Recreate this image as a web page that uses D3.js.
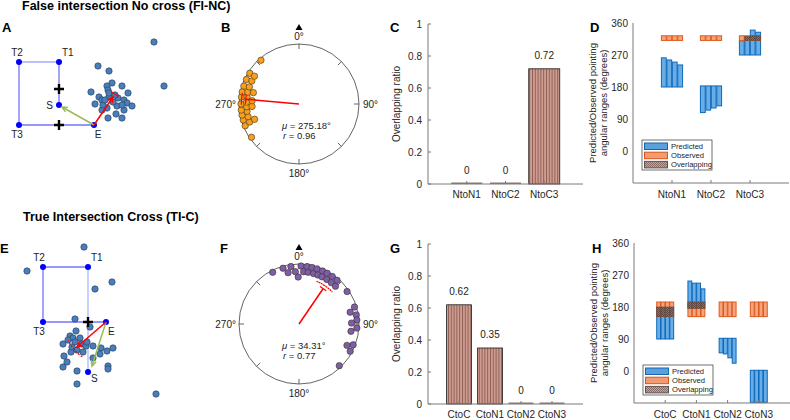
<!DOCTYPE html>
<html><head><meta charset="utf-8">
<script src="https://cdn.jsdelivr.net/npm/d3@7"></script>
<style>body{margin:0;background:#fff}svg{font-family:"Liberation Sans",Arial,Helvetica,sans-serif}</style>
</head><body>
<svg id="c" width="790" height="420"></svg>
<script>
// ---------------- DATA ----------------
const titles = ["False intersection No cross (FI-NC)", "True Intersection Cross (TI-C)"];
const letters = ["A","B","C","D","E","F","G","H"];

// Map A (map units; T3 at origin, y up)
const nodesA = [["T2",0,6.3],["T1",4.0,6.3],["T3",0,0],["E",7.5,0],["S",4.0,2.0]];
const edgesA = [["T2","T1"],["T1","S"],["T2","T3"],["T3","E"]];
const crossesA = [[4.0,3.6],[4.0,0]];
const pointsA = [[13.5,8.3],[14.5,3.9],[7.9,5.9],[9.0,5.4],[9.3,4.2],[8.8,3.9],[10.3,3.9],[7.2,3.3],[8.9,3.5],
  [10.9,3.2],[8.0,2.8],[8.3,2.5],[7.6,2.1],[9.0,2.8],[9.9,2.7],[10.5,2.5],[10.8,2.2],[11.3,1.9],[9.8,1.9],
  [10.5,1.5],[8.8,1.7],[8.3,1.5],[9.7,1.1],[8.9,0.7],[10.3,0.7],[8.4,2.0],[10.3,2.0],[9.4,2.3],[9.0,3.2],
  [8.6,2.5],[9.6,3.0]];
const redArrowA = [[7.5,0],[9.4,2.8]];
const greenArrowA = [[7.5,0],[4.3,1.8]];
const ciA = 7;

// Map E
const nodesE = [["T2",0,5.5],["T1",4.5,5.5],["T3",0,0],["E",6.3,0],["S",4.5,-5.0]];
const edgesE = [["T2","T1"],["T2","T3"],["T3","E"],["T1","S"]];
const crossesE = [[4.5,0]];
const pointsE = [[4.1,7.5],[-1.6,5.1],[6.9,4.0],[5.2,3.3],[3.2,0.3],[4.7,-0.5],[3.3,-0.9],[2.7,-1.4],[3.0,-1.6],
  [3.7,-1.6],[2.5,-1.8],[2.0,-2.2],[3.9,-2.2],[4.3,-2.4],[5.0,-2.4],[3.4,-2.8],[2.8,-3.0],[5.8,-2.6],[6.4,-2.9],
  [7.0,-2.6],[2.1,-3.4],[5.7,-3.2],[5.0,-3.6],[2.4,-4.0],[2.0,-4.5],[6.5,-4.4],[6.5,-4.7],[3.4,-4.9],[3.4,-6.2],
  [11.3,-7.2],[2.9,-2.5],[3.2,-2.0],[4.4,-2.0],[4.0,-3.0]];
const redArrowE = [[6.3,0],[3.4,-2.5]];
const greenArrowE = [[6.3,0],[4.9,-4.4]];
const ciE = 15;

// Circular panels (compass degrees)
const anglesB = [235,248,250,251,254,256,259,262,264,267,267,270,272,274,277,278,282,283,284,288,289,295,296,302,302,319];
const statsB = {mu:275.18, r:0.96, ci:6};
const anglesF = [333,344,348,352,356,359,2,5,8,10,13,16,18,21,24,26,29,32,35,38,41,44,
  56,73,77,81,86,89,94,98,111,114,118,136];
const statsF = {mu:34.31, r:0.77, ci:12};
const compassLabels = [[0,"0°"],[90,"90°"],[180,"180°"],[270,"270°"]];

// Overlapping ratio bars
const catsC = ["NtoN1","NtoC2","NtoC3"];
const valsC = [0, 0, 0.72];
const catsG = ["CtoC","CtoN1","CtoN2","CtoN3"];
const valsG = [0.62, 0.35, 0, 0];
const ratioTicks = [0,0.2,0.4,0.6,0.8,1];

// Predicted / observed angular ranges (degrees)
const predD = [
  [[180,262],[180,256],[180,250],[180,242]],
  [[108,183],[115,183],[121,183],[127,183]],
  [[270,310],[270,322],[270,340],[270,334]]];
const obsD = [311,324];
const predH = [
  [[90,180],[90,180],[90,180],[90,180]],
  [[176,253],[176,247],[176,247],[176,231]],
  [[51,92],[48,92],[37,92],[22,92]],
  [[-88,2],[-88,2],[-88,2],[-88,2]]];
const obsH = [153,194];
const angleTicks = [0,90,180,270,360];
const legendItems = ["Predicted","Observed","Overlapping"];

// ---------------- DRAW ----------------
const svg = d3.select("#c");
const defs = svg.append("defs");
const stripe = defs.append("pattern").attr("id","stripe").attr("patternUnits","userSpaceOnUse")
  .attr("width",2.8).attr("height",10);
stripe.append("rect").attr("width",2.8).attr("height",10).attr("fill","#cf9d92");
stripe.append("rect").attr("x",0).attr("width",1).attr("height",10).attr("fill","#8f5f55");
const dots = defs.append("pattern").attr("id","dots").attr("patternUnits","userSpaceOnUse")
  .attr("width",2).attr("height",2);
dots.append("rect").attr("width",2).attr("height",2).attr("fill","#8e716b");
dots.append("rect").attr("width",1).attr("height",1).attr("fill","#5c4641");
dots.append("rect").attr("x",1).attr("y",1).attr("width",1).attr("height",1).attr("fill","#5c4641");
const dotsL = defs.append("pattern").attr("id","dotsL").attr("patternUnits","userSpaceOnUse")
  .attr("width",2).attr("height",2);
dotsL.append("rect").attr("width",2).attr("height",2).attr("fill","#c7a49c");
dotsL.append("rect").attr("width",1).attr("height",1).attr("fill","#8a6a63");
dotsL.append("rect").attr("x",1).attr("y",1).attr("width",1).attr("height",1).attr("fill","#8a6a63");

// titles & letters
svg.append("text").attr("x",22).attr("y",10).attr("font-size",12.5).attr("font-weight","bold").text(titles[0]);
svg.append("text").attr("x",23).attr("y",221).attr("font-size",12.5).attr("font-weight","bold").text(titles[1]);
const letterPos = [[2,32],[221,32],[390,32],[590,32],[0,253],[220,253],[390,253],[592,253]];
letters.forEach((l,i)=>svg.append("text").attr("x",letterPos[i][0]).attr("y",letterPos[i][1])
  .attr("font-size",13).attr("font-weight","bold").text(l));

function arrowHead(g, x1,y1,x2,y2,color){
  const a = Math.atan2(y2-y1,x2-x1), L=6, s=0.45;
  g.append("path").attr("d",`M${x2-L*Math.cos(a-s)},${y2-L*Math.sin(a-s)} L${x2},${y2} L${x2-L*Math.cos(a+s)},${y2-L*Math.sin(a+s)}`)
    .attr("fill","none").attr("stroke",color).attr("stroke-width",1.5);
}

function mapPanel(nodes, edges, points, crosses, red, green, ci, xs, ys, labelOff, edgeColors){
  const g = svg.append("g");
  const N = {}; nodes.forEach(n=>N[n[0]]={x:xs(n[1]),y:ys(n[2])});
  edges.forEach((e,i)=>g.append("line").attr("x1",N[e[0]].x).attr("y1",N[e[0]].y).attr("x2",N[e[1]].x).attr("y2",N[e[1]].y)
    .attr("stroke",edgeColors[i]).attr("stroke-width",1.3));
  nodes.forEach(n=>{
    g.append("circle").attr("cx",N[n[0]].x).attr("cy",N[n[0]].y).attr("r",3).attr("fill","#0000ff");
    const o = labelOff[n[0]];
    g.append("text").attr("x",N[n[0]].x+o[0]).attr("y",N[n[0]].y+o[1]).attr("text-anchor",o[2])
      .attr("font-size",10).attr("fill","#222").text(n[0]);
  });
  points.forEach(p=>g.append("circle").attr("cx",xs(p[0])).attr("cy",ys(p[1])).attr("r",3.2)
    .attr("fill","#4a7ebb").attr("stroke","#223a58").attr("stroke-width",0.6));
  crosses.forEach(c=>{
    const x=xs(c[0]), y=ys(c[1]);
    g.append("path").attr("d",`M${x-5},${y} H${x+5} M${x},${y-5} V${y+5}`).attr("stroke","#000").attr("stroke-width",2.4);
  });
  const gx1=xs(green[0][0]), gy1=ys(green[0][1]), gx2=xs(green[1][0]), gy2=ys(green[1][1]);
  g.append("line").attr("x1",gx1).attr("y1",gy1).attr("x2",gx2).attr("y2",gy2).attr("stroke","#9bbb59").attr("stroke-width",1.5);
  arrowHead(g,gx1,gy1,gx2,gy2,"#9bbb59");
  const rx1=xs(red[0][0]), ry1=ys(red[0][1]), rx2=xs(red[1][0]), ry2=ys(red[1][1]);
  g.append("line").attr("x1",rx1).attr("y1",ry1).attr("x2",rx2).attr("y2",ry2).attr("stroke","#ff0000").attr("stroke-width",1.5);
  arrowHead(g,rx1,ry1,rx2,ry2,"#ff0000");
  const len = Math.hypot(rx2-rx1, ry2-ry1)*1.1;
  const ang = Math.atan2(rx2-rx1, -(ry2-ry1));
  const arc = d3.arc().innerRadius(len).outerRadius(len).startAngle(ang-ci*Math.PI/180).endAngle(ang+ci*Math.PI/180);
  g.append("path").attr("transform",`translate(${rx1},${ry1})`).attr("d",arc()).attr("fill","none")
    .attr("stroke","#ff0000").attr("stroke-width",1.2).attr("stroke-dasharray","2,1.5");
}

const xA = d3.scaleLinear().domain([0,10]).range([19,119]);
const yA = d3.scaleLinear().domain([0,10]).range([125,25]);
mapPanel(nodesA, edgesA, pointsA, crossesA, redArrowA, greenArrowA, ciA, xA, yA,
  {T2:[-2,-6,"middle"],T1:[3,-6,"start"],T3:[-2,13,"middle"],E:[4,13,"middle"],S:[-6,4,"end"]},
  ["#a9a9ff","#7373ff","#7373ff","#7373ff"]);
const xE = d3.scaleLinear().domain([0,10]).range([43,143]);
const yE = d3.scaleLinear().domain([0,10]).range([322,222]);
mapPanel(nodesE, edgesE, pointsE, crossesE, redArrowE, greenArrowE, ciE, xE, yE,
  {T2:[-4,-6,"middle"],T1:[3,-6,"start"],T3:[-4,13,"middle"],E:[2,13,"start"],S:[3,10,"start"]},
  ["#7373ff","#7373ff","#7373ff","#a9b9ff"]);

// circular panels
const angR = d3.scaleLinear().domain([0,360]).range([0,2*Math.PI]);
function circPanel(cx, cy, R, angles, color, st){
  const g = svg.append("g").attr("transform",`translate(${cx},${cy})`);
  g.append("circle").attr("r",R).attr("fill","none").attr("stroke","#3c3c3c").attr("stroke-width",0.8);
  d3.range(0,360,45).forEach(a=>{
    const p1=d3.pointRadial(angR(a),R), p2=d3.pointRadial(angR(a),R-5);
    g.append("line").attr("x1",p1[0]).attr("y1",p1[1]).attr("x2",p2[0]).attr("y2",p2[1]).attr("stroke","#3c3c3c").attr("stroke-width",0.8);
  });
  g.append("path").attr("d",`M-3.5,${-R-14} L3.5,${-R-14} L0,${-R-20} Z`).attr("fill","#000");
  const lp = {0:[0,-R-4,"middle"],90:[R+4,4,"start"],180:[0,R+13,"middle"],270:[-R-3,4,"end"]};
  compassLabels.forEach(([a,t])=>g.append("text").attr("x",lp[a][0]).attr("y",lp[a][1]).attr("text-anchor",lp[a][2])
    .attr("font-size",10).attr("fill","#222").text(t));
  const placed=[];
  angles.slice().sort((a,b)=>a-b).forEach(a=>{
    for(let k=0;k<8;k++){
      const p=d3.pointRadial(angR(a),R-2-k*5.5);
      if(placed.every(q=>Math.hypot(q[0]-p[0],q[1]-p[1])>=4.3)){placed.push(p);break;}
    }
  });
  placed.forEach(p=>g.append("circle").attr("cx",p[0]).attr("cy",p[1]).attr("r",3.2).attr("fill",color)
    .attr("stroke","#3a3026").attr("stroke-width",0.6));
  const L = st.r*R;
  const e = d3.pointRadial(angR(st.mu), L*0.93);
  g.append("line").attr("x1",0).attr("y1",0).attr("x2",e[0]).attr("y2",e[1]).attr("stroke","#ff0000").attr("stroke-width",1.5);
  const t1=d3.pointRadial(angR(st.mu-5),L*0.93), t2=d3.pointRadial(angR(st.mu+5),L*0.93);
  g.append("line").attr("x1",t1[0]).attr("y1",t1[1]).attr("x2",t2[0]).attr("y2",t2[1]).attr("stroke","#ff0000").attr("stroke-width",1.2);
  const arc = d3.arc().innerRadius(L).outerRadius(L).startAngle(angR(st.mu-st.ci)).endAngle(angR(st.mu+st.ci));
  g.append("path").attr("d",arc()).attr("fill","none").attr("stroke","#ff0000").attr("stroke-width",1.2).attr("stroke-dasharray","1.5,1.2");
  const tm = g.append("text").attr("x",-17).attr("y",25).attr("font-size",9.5).attr("fill","#222");
  tm.append("tspan").attr("font-style","italic").text("μ");
  tm.append("tspan").text(" = "+st.mu.toFixed(2)+"°");
  const tr = g.append("text").attr("x",-16).attr("y",35).attr("font-size",9.5).attr("fill","#222");
  tr.append("tspan").attr("font-style","italic").text("r");
  tr.append("tspan").text("  = "+st.r.toFixed(2));
}
circPanel(299,104,60,anglesB,"#f9a01b",statsB);
circPanel(299,324,60,anglesF,"#7d5fa8",statsF);

const AX="#7a7a7a";
function baseAxes(g, x0,x1,y0,y1){
  g.append("line").attr("x1",x0).attr("y1",y0).attr("x2",x0).attr("y2",y1).attr("stroke",AX).attr("stroke-width",1);
  g.append("line").attr("x1",x0).attr("y1",y1).attr("x2",x1).attr("y2",y1).attr("stroke",AX).attr("stroke-width",1);
}

function ratioPanel(cats, vals, x0,x1,y0,y1){
  const g = svg.append("g");
  const x = d3.scaleLinear().domain([0,cats.length+1]).range([x0,x1]);
  const y = d3.scaleLinear().domain([0,1]).range([y1,y0]);
  const bw = x(0.8)-x(0);
  vals.forEach((v,i)=>{
    const cx=x(i+1);
    if(v>0){
      g.append("rect").attr("x",cx-bw/2).attr("y",y(v)).attr("width",bw).attr("height",y(0)-y(v))
        .attr("fill","url(#stripe)").attr("stroke","#1a1a1a").attr("stroke-width",0.8);
    } else {
      g.append("rect").attr("x",cx-bw/2).attr("y",y(0)-1.5).attr("width",bw).attr("height",1.5).attr("fill","#8a7672");
    }
    g.append("text").attr("x",cx).attr("y",y(v)-10).attr("text-anchor","middle").attr("font-size",10).attr("fill","#222").text(String(v));
  });
  baseAxes(g,x0,x1,y0,y1);
  ratioTicks.forEach(t=>{
    g.append("line").attr("x1",x0).attr("x2",x0+3).attr("y1",y(t)).attr("y2",y(t)).attr("stroke",AX);
    g.append("text").attr("x",x0-6).attr("y",y(t)).attr("dy","0.35em").attr("text-anchor","end").attr("font-size",10).attr("fill","#262626").text(String(t));
  });
  cats.forEach((c,i)=>{
    g.append("line").attr("x1",x(i+1)).attr("x2",x(i+1)).attr("y1",y1).attr("y2",y1-3).attr("stroke",AX);
    g.append("text").attr("x",x(i+1)).attr("y",y1+14).attr("text-anchor","middle").attr("font-size",10).attr("fill","#262626").text(c);
  });
  g.append("text").attr("transform",`translate(${x0-28},${(y0+y1)/2}) rotate(-90)`).attr("text-anchor","middle")
    .attr("font-size",10).attr("fill","#262626").text("Overlapping ratio");
}
ratioPanel(catsC, valsC, 428,583,24,184);
ratioPanel(catsG, valsG, 428,583,244,404);

function rangePanel(cats, pred, obs, x0,x1,y0,y1, legTop){
  const g = svg.append("g");
  const x = d3.scaleLinear().domain([0,cats.length+1]).range([x0,x1]);
  const y = d3.scaleLinear().domain([-90,360]).range([y1,y0]);
  const gw=0.56, n=4, sw=(x(gw/n)-x(0))*0.88;
  const cxs = (i,j)=>x(i+1+(j-1.5)*gw/n);
  pred.forEach((grp,i)=>grp.forEach((p,j)=>{
    g.append("rect").attr("x",cxs(i,j)-sw/2).attr("y",y(p[1])).attr("width",sw).attr("height",y(p[0])-y(p[1]))
      .attr("fill","#68ade6").attr("stroke","#0c68bb").attr("stroke-width",1);
  }));
  pred.forEach((grp,i)=>grp.forEach((p,j)=>{
    g.append("rect").attr("x",cxs(i,j)-sw/2).attr("y",y(obs[1])).attr("width",sw).attr("height",y(obs[0])-y(obs[1]))
      .attr("fill","#f5a47d").attr("stroke","#de5a1c").attr("stroke-width",1);
  }));
  pred.forEach((grp,i)=>grp.forEach((p,j)=>{
    const lo=Math.max(p[0],obs[0]), hi=Math.min(p[1],obs[1]);
    if(hi>lo) g.append("rect").attr("x",cxs(i,j)-sw/2).attr("y",y(hi)).attr("width",sw).attr("height",y(lo)-y(hi))
      .attr("fill","url(#dots)").attr("stroke","#5a4440").attr("stroke-width",0.6);
  }));
  baseAxes(g,x0,x1,y0,y1);
  angleTicks.forEach(t=>{
    g.append("text").attr("x",x0-5).attr("y",y(t)).attr("dy","0.35em").attr("text-anchor","end").attr("font-size",10).attr("fill","#262626").text(String(t));
  });
  cats.forEach((c,i)=>{
    g.append("line").attr("x1",x(i+1)).attr("x2",x(i+1)).attr("y1",y1).attr("y2",y1-3).attr("stroke",AX);
    g.append("text").attr("x",x(i+1)).attr("y",y1+15).attr("text-anchor","middle").attr("font-size",10).attr("fill","#262626").text(c);
  });
  const my=(y0+y1)/2;
  g.append("text").attr("transform",`translate(${x0-37},${my}) rotate(-90)`).attr("text-anchor","middle")
    .attr("font-size",9.5).attr("fill","#262626").text("Predicted/Observed pointing");
  g.append("text").attr("transform",`translate(${x0-26},${my}) rotate(-90)`).attr("text-anchor","middle")
    .attr("font-size",9.5).attr("fill","#262626").text("angular ranges (degrees)");
  const lx=x0+9, lg=g.append("g");
  lg.append("rect").attr("x",lx).attr("y",legTop).attr("width",70).attr("height",30).attr("fill","#fff").attr("stroke","#333").attr("stroke-width",0.7);
  const sf=[["#5aa0dc","#1565b0"],["#f19b73","#d9541a"],["url(#dotsL)","#555"]];
  legendItems.forEach((t,k)=>{
    const ry=legTop+6+k*9.2;
    lg.append("rect").attr("x",lx+2.5).attr("y",ry-3).attr("width",23).attr("height",6.5).attr("fill",sf[k][0]).attr("stroke",sf[k][1]).attr("stroke-width",1);
    lg.append("text").attr("x",lx+29).attr("y",ry+2.8).attr("font-size",7.6).attr("fill","#222").text(t);
  });
}
rangePanel(catsC, predD, obsD, 633,789,23,183,140);
rangePanel(catsG, predH, obsH, 634,790,243,403,365);
</script>
</body></html>
